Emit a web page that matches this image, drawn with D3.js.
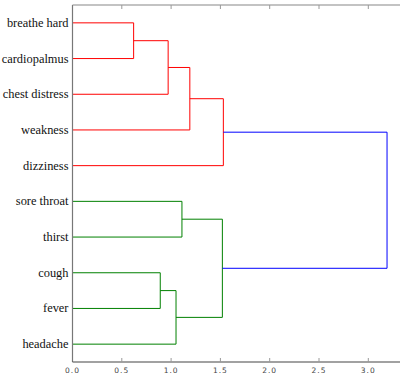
<!DOCTYPE html>
<html>
<head>
<meta charset="utf-8">
<script src="https://cdn.jsdelivr.net/npm/d3@7.9.0/dist/d3.min.js"></script>
<style>
  html, body { margin: 0; padding: 0; background: #fff; }
  svg { display: block; }
  .leaf { font-family: "Liberation Serif", "Times New Roman", serif; }
  .tick { font-family: "DejaVu Sans", sans-serif; }
</style>
</head>
<body>
<svg id="chart" width="400" height="376"></svg>
<script>
// leaves, top to bottom
const leaves = ['breathe hard', 'cardiopalmus', 'chest distress', 'weakness', 'dizziness',
  'sore throat', 'thirst', 'cough', 'fever', 'headache'];

// merges: new cluster id = 10 + index
const mergeLeft = [0, 10, 11, 12, 5, 7, 15, 14, 13];
const mergeRight = [1, 2, 3, 4, 6, 8, 9, 16, 17];
const mergeHeight = [0.62, 0.97, 1.19, 1.53, 1.11, 0.89, 1.05, 1.52, 3.19];
const mergeColor = ['#ff0000', '#ff0000', '#ff0000', '#ff0000',
  '#008000', '#008000', '#008000', '#008000', '#0000ff'];

const xTicks = [0, 0.5, 1.0, 1.5, 2.0, 2.5, 3.0];

const svg = d3.select('#chart');

const x = d3.scaleLinear().domain([0, 3.35]).range([72.5, 72.5 + 3.35 * 98.6]);
const y = d3.scaleLinear().domain([0, 100]).range([5, 362]);

// position of every node: leaves at 5, 15, 25 ...
let pos = leaves.map((d, i) => ({ h: 0, v: 5 + 10 * i }));
mergeLeft.forEach((l, i) => {
  let r = mergeRight[i];
  pos.push({ h: mergeHeight[i], v: (pos[l].v + pos[r].v) / 2 });
});

// links
mergeLeft.forEach((l, i) => {
  let a = pos[l], b = pos[mergeRight[i]], h = mergeHeight[i];
  let path = d3.path();
  path.moveTo(x(a.h), y(a.v));
  path.lineTo(x(h), y(a.v));
  path.lineTo(x(h), y(b.v));
  path.lineTo(x(b.h), y(b.v));
  svg.append('path')
    .attr('d', path.toString())
    .attr('fill', 'none')
    .attr('stroke', mergeColor[i])
    .attr('stroke-width', 1);
});

// spines
svg.append('line').attr('x1', 72.5).attr('x2', 72.5).attr('y1', 5).attr('y2', 362)
  .attr('stroke', '#777').attr('stroke-width', 1.2);
svg.append('line').attr('x1', 72.5).attr('x2', 400).attr('y1', 5).attr('y2', 5)
  .attr('stroke', '#888').attr('stroke-width', 1.2);
svg.append('line').attr('x1', 72.5).attr('x2', 400).attr('y1', 362).attr('y2', 362)
  .attr('stroke', '#444').attr('stroke-width', 1.2);

// ticks (inward)
xTicks.forEach(t => {
  if (t === 0) return;
  svg.append('line').attr('x1', x(t)).attr('x2', x(t)).attr('y1', 362).attr('y2', 358)
    .attr('stroke', '#999');
  svg.append('line').attr('x1', x(t)).attr('x2', x(t)).attr('y1', 5).attr('y2', 9)
    .attr('stroke', '#999');
});

svg.selectAll('text.tick')
  .data(xTicks)
  .join('text')
  .attr('class', 'tick')
  .attr('x', d => x(d))
  .attr('y', 373)
  .attr('text-anchor', 'middle')
  .attr('font-size', 7.5)
  .attr('letter-spacing', 1)
  .attr('fill', '#444')
  .text(d => d.toFixed(1));

// leaf labels
svg.selectAll('text.leaf')
  .data(leaves)
  .join('text')
  .attr('class', 'leaf')
  .attr('x', 68.5)
  .attr('y', (d, i) => y(5 + 10 * i))
  .attr('dy', '0.32em')
  .attr('text-anchor', 'end')
  .attr('font-size', 12.4)
  .attr('fill', '#111')
  .text(d => d);
</script>
</body>
</html>
